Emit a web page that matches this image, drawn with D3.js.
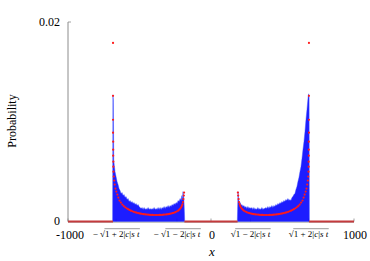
<!DOCTYPE html>
<html>
<head>
<meta charset="utf-8">
<script src="https://cdn.jsdelivr.net/npm/d3@7"></script>
<style>
  body { margin: 0; background: #fff; }
  svg { display: block; }
</style>
</head>
<body>
<svg id="chart" width="370" height="261" font-family="'Liberation Serif', 'DejaVu Serif', serif"></svg>
<script>
// red dots (theory), left lobe
const redLeftX = [-685,-685,-685,-685,-684,-684,-684,-683,-683,-682,-680,-677,-673,-668,-662,-655,-648,-640,
  -630,-620,-610,-600,-590,-580,-570,-560,-550,-540,-530,-520,-510,-500,-490,-480,-470,-460,-450,-440,-430,-420,
  -410,-400,-390,-380,-370,-360,-350,-340,-330,-320,-310,-300,-290,-280,-270,-260,-250,-240,-230,
  -222,-215,-209,-204,-200,-196,-193,-190,-188];
const redLeftY = [0.0179,0.0126,0.0102,0.0089,0.0080,0.0072,0.0066,0.0060,0.0055,0.0050,0.0045,0.0041,0.0037,0.0033,0.0030,0.0027,0.0024,0.0021,
  0.0019,0.0017,0.00155,0.00143,0.00133,0.00124,0.00116,0.00109,0.00103,0.00097,0.00092,0.00088,0.00084,0.00081,0.00078,0.00075,0.00073,0.00071,0.00070,0.00068,0.00067,0.00066,
  0.00066,0.00065,0.00065,0.00065,0.00065,0.00066,0.00066,0.00067,0.00068,0.00070,0.00071,0.00073,0.00076,0.00079,0.00083,0.00087,0.00093,0.00100,0.00109,
  0.00119,0.00130,0.00142,0.00156,0.00172,0.00195,0.00225,0.0026,0.0029];

// red dots, right lobe
const redRightX = [188,190,193,196,200,204,209,215,222,
  230,240,250,260,270,280,290,300,310,320,330,340,350,360,370,380,390,400,410,420,430,440,450,460,470,480,490,500,510,520,530,540,550,560,570,580,590,600,610,620,630,
  640,648,655,662,668,673,677,680,682,683,683,684,684,684,685,685,685,685];
const redRightY = [0.0029,0.0026,0.00225,0.00195,0.00172,0.00156,0.00142,0.00130,0.00119,
  0.00109,0.00100,0.00093,0.00087,0.00083,0.00079,0.00076,0.00073,0.00071,0.00070,0.00068,0.00067,0.00066,0.00066,0.00065,0.00065,0.00065,0.00065,0.00066,0.00066,0.00067,0.00068,0.00070,0.00071,0.00073,0.00075,0.00078,0.00081,0.00084,0.00088,0.00092,0.00097,0.00103,0.00109,0.00116,0.00124,0.00133,0.00143,0.00155,0.0017,0.0019,
  0.0021,0.0024,0.0027,0.0030,0.0033,0.0037,0.0041,0.0045,0.0050,0.0055,0.0060,0.0066,0.0072,0.0080,0.0089,0.0102,0.0126,0.0179];

// zero-probability stretches (red baseline)
const zeroRanges = [[-1000, -685], [-186, 186], [685, 1000]];

// blue (simulation) upper envelope, left lobe
const blueLeftX = [-688,-686,-683,-680,-676,-671,-664,-657,-650,-643,-636,-629,-622,-615,-608,-601,-594,-587,-580,-573,-566,
  -559,-552,-545,-538,-531,-524,-517,-510,-503,-496,-489,-482,-475,-468,-461,-454,-447,-440,-433,-426,-419,-412,-405,-398,
  -391,-384,-377,-370,-363,-356,-349,-342,-335,-328,-321,-314,-307,-300,-293,-286,-279,-272,-265,-258,-251,-244,-237,-230,
  -223,-216,-209,-204,-200,-196,-192,-189,-186,-184];
const blueLeftY = [0,0.0127,0.0122,0.0062,0.0056,0.0050,0.0045,0.0040,0.0037,0.0033,0.0031,0.0028,0.0029,0.0026,0.0027,0.0024,0.0025,0.0022,0.0023,0.0020,0.0021,
  0.0019,0.0020,0.0018,0.0019,0.0017,0.0018,0.0016,0.0017,0.0015,0.0014,0.0013,0.0014,0.0012,0.0014,0.0012,0.0013,0.0012,0.0014,0.0012,0.0013,0.0012,0.0013,0.0012,0.0014,
  0.0012,0.0013,0.0012,0.0014,0.0012,0.0014,0.0012,0.0014,0.0013,0.0015,0.0013,0.0015,0.0014,0.0016,0.0014,0.0016,0.0015,0.0017,0.0016,0.0018,0.0017,0.0019,0.0018,0.0021,
  0.0020,0.0023,0.0021,0.0026,0.0022,0.0030,0.0027,0.0021,0.0010,0];

// blue upper envelope, right lobe
const blueRightX = [184,186,189,192,196,200,204,209,216,223,230,237,244,251,258,265,272,279,286,293,300,307,314,321,328,335,342,349,356,363,
  370,377,384,391,398,405,412,419,426,433,440,447,454,461,468,475,482,489,496,503,510,517,524,531,538,545,552,559,566,573,
  580,587,594,601,608,615,622,629,636,643,650,657,664,671,676,680,683,686,688];
const blueRightY = [0,0.0012,0.0030,0.0024,0.0020,0.0017,0.0019,0.0016,0.0017,0.0015,0.0016,0.0014,0.0015,0.0013,0.0015,0.0013,0.0014,0.0013,0.0014,0.0012,0.0014,0.0012,0.0013,0.0012,0.0014,0.0012,0.0013,0.0012,0.0014,0.0012,
  0.0013,0.0013,0.0014,0.0013,0.0015,0.0013,0.0015,0.0014,0.0016,0.0014,0.0016,0.0015,0.0017,0.0016,0.0018,0.0017,0.0019,0.0018,0.0020,0.0019,0.0021,0.0020,0.0022,0.0021,0.0023,0.0021,0.0022,0.0021,0.0024,0.0025,
  0.0027,0.0028,0.0032,0.0035,0.0040,0.0044,0.0050,0.0055,0.0063,0.0072,0.0080,0.0090,0.0102,0.0112,0.0120,0.0126,0.0128,0.0125,0];

// axis ticks
const xTickValues = [-1000, 0, 1000];
const sqrtTicks = [
  { value: -664, sign: "\u2212", op: "+" },
  { value: -238, sign: "\u2212", op: "\u2212" },
  { value: 276, sign: "", op: "\u2212" },
  { value: 682, sign: "", op: "+" }
];
const yTickValues = [0, 0.02];

const svg = d3.select("#chart");
const x = d3.scaleLinear().domain([-1000, 1000]).range([68, 354]);
const y = d3.scaleLinear().domain([0, 0.02]).range([221.5, 22]);
const axisColor = "#8c8c8c";

// axes
svg.append("line").attr("x1", x(-1000)).attr("x2", x(-1000))
  .attr("y1", y(0.02)).attr("y2", y(0))
  .attr("stroke", axisColor).attr("stroke-width", 1);
svg.append("line").attr("x1", x(-1000)).attr("x2", x(1000))
  .attr("y1", y(0) + 0.5).attr("y2", y(0) + 0.5)
  .attr("stroke", axisColor).attr("stroke-width", 1);

// small inward ticks
svg.append("g").selectAll("line").data(xTickValues.concat(sqrtTicks.map(d => d.value))).join("line")
  .attr("x1", d => x(d)).attr("x2", d => x(d))
  .attr("y1", y(0)).attr("y2", y(0) - 3)
  .attr("stroke", axisColor).attr("stroke-width", 0.8);
svg.append("g").selectAll("line").data(yTickValues).join("line")
  .attr("x1", x(-1000)).attr("x2", x(-1000) + 3)
  .attr("y1", d => y(d)).attr("y2", d => y(d))
  .attr("stroke", axisColor).attr("stroke-width", 0.8);

// y tick labels
svg.append("g").selectAll("text").data(yTickValues).join("text")
  .attr("x", 60).attr("y", d => y(d) + 3.5)
  .attr("text-anchor", "end").attr("font-size", 12)
  .text(d => d === 0 ? "0" : "0.02");

// x tick labels
svg.append("g").selectAll("text").data(xTickValues).join("text")
  .attr("x", d => x(d) + (d === -1000 ? 2 : 1)).attr("y", 239)
  .attr("text-anchor", "middle").attr("font-size", 12)
  .text(d => d < 0 ? "-" + Math.abs(d) : String(d));

// sqrt tick labels
sqrtTicks.forEach(t => {
  const g = svg.append("g");
  const fs = 9, base = 236.5;
  const pre = g.append("text").attr("font-size", fs).attr("y", base).text(t.sign + (t.sign ? " " : "") + "\u221A");
  const rad = g.append("text").attr("font-size", fs).attr("y", base);
  rad.append("tspan").text("1 " + t.op + " 2|");
  rad.append("tspan").attr("font-style", "italic").text("c");
  rad.append("tspan").text("|");
  rad.append("tspan").attr("font-style", "italic").text("s t");
  const wPre = pre.node().getComputedTextLength();
  const wRad = rad.node().getComputedTextLength();
  const x0 = x(t.value) - (wPre + wRad) / 2;
  pre.attr("x", x0);
  rad.attr("x", x0 + wPre);
  g.append("line")
    .attr("x1", x0 + wPre - 0.5).attr("x2", x0 + wPre + wRad + 0.5)
    .attr("y1", base - 7.8).attr("y2", base - 7.8)
    .attr("stroke", "#555").attr("stroke-width", 0.6);
});

// axis titles
svg.append("text").attr("x", 212).attr("y", 256)
  .attr("text-anchor", "middle").attr("font-size", 13).attr("font-style", "italic").text("x");
svg.append("text").attr("transform", "translate(16,121) rotate(-90)")
  .attr("text-anchor", "middle").attr("font-size", 12).text("Probability");

// blue simulated distribution
const area = d3.area().x(d => x(d[0])).y0(y(0)).y1(d => y(d[1]));
[d3.zip(blueLeftX, blueLeftY), d3.zip(blueRightX, blueRightY)].forEach(data => {
  svg.append("path").datum(data).attr("d", area)
    .attr("fill", "#0a0aff").attr("fill-opacity", 0.92)
    .attr("stroke", "#3a4cff").attr("stroke-width", 0.7).attr("stroke-opacity", 0.6);
});

// red baseline where probability is zero
svg.append("g").selectAll("line").data(zeroRanges).join("line")
  .attr("x1", d => x(d[0])).attr("x2", d => x(d[1]))
  .attr("y1", y(0)).attr("y2", y(0))
  .attr("stroke", "#c43a3c").attr("stroke-width", 1.8);

// red theory dots
const redDots = d3.zip(redLeftX, redLeftY).concat(d3.zip(redRightX, redRightY));
svg.append("g").selectAll("circle").data(redDots).join("circle")
  .attr("cx", d => x(d[0])).attr("cy", d => y(d[1]))
  .attr("r", 1.1).attr("fill", "#ff1a1a");
</script>
</body>
</html>
